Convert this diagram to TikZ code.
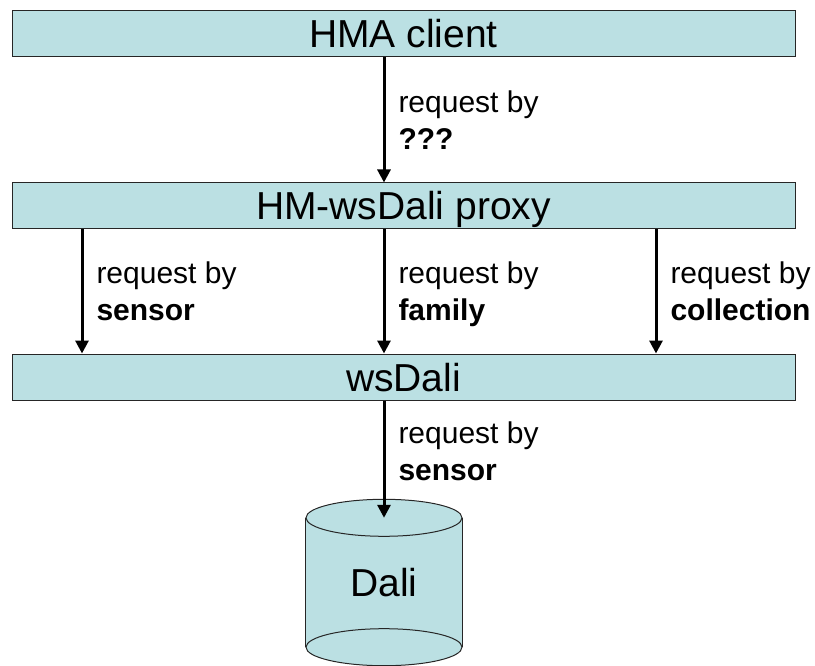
\documentclass[tikz,border=0pt]{standalone}
\usepackage{fontspec}
\setmainfont{Liberation Sans}
\usetikzlibrary{positioning, arrows.meta, backgrounds}
\definecolor{boxfill}{HTML}{BBE0E3}

\begin{document}
\begin{tikzpicture}[
    x=1pt, y=-1pt,
    layer/.style={rectangle, draw=black!85, line width=1pt, fill=boxfill,
        minimum width=783pt, minimum height=46pt, inner sep=0pt,
        text height=28pt, text depth=0pt, font=\fontsize{39}{44}\selectfont},
    store/.style={rectangle, minimum width=156pt, minimum height=129pt, inner sep=0pt,
        text height=28pt, text depth=0pt, font=\fontsize{39}{44}\selectfont},
    note/.style={align=left, inner sep=0pt, text depth=0pt, font=\fontsize{30}{37}\selectfont},
    myarrow/.style={line width=3pt, -{Triangle[length=13pt, width=13pt]}}]

    \useasboundingbox (0,0) rectangle (815,666);

    \node[layer] (client) at (403.5,34) {HMA client};
    \node[layer, below=125pt of client] (proxy) {HM-wsDali proxy};
    \node[layer, below=124pt of proxy] (wsdali) {wsDali};
    \node[store] (dali) at (384,582.5) {Dali};

    % database cylinder
    \begin{scope}[on background layer]
        \fill[boxfill] (dali.north west) -- (dali.south west)
            arc[start angle=180, end angle=360, x radius=78pt, y radius=18.5pt]
            -- (dali.north east) -- cycle;
        \draw[line width=1pt, draw=black!85, fill=boxfill] (dali.north) ellipse[x radius=78pt, y radius=18.5pt];
        \draw[line width=1pt, draw=black!85] (dali.south) ellipse[x radius=78pt, y radius=18.5pt];
        \draw[line width=1pt, draw=black!85] (dali.north west) -- (dali.south west)
            (dali.north east) -- (dali.south east);
    \end{scope}

    \draw[myarrow] (client.south -| dali) -- (proxy.north -| dali)
        node[note, midway, right=13pt] {request by\\\textbf{???}};

    \draw[myarrow] ([xshift=-302pt]proxy.south -| dali) -- ([xshift=-302pt]wsdali.north -| dali)
        node[note, midway, right=13pt] {request by\\\textbf{sensor}};
    \draw[myarrow] (proxy.south -| dali) -- (wsdali.north -| dali)
        node[note, midway, right=13pt] {request by\\\textbf{family}};
    \draw[myarrow] ([xshift=272pt]proxy.south -| dali) -- ([xshift=272pt]wsdali.north -| dali)
        node[note, midway, right=13pt] {request by\\\textbf{collection}};

    \draw[myarrow] (wsdali.south -| dali) -- (dali.north)
        node[note, pos=0.43, right=13pt] {request by\\\textbf{sensor}};

\end{tikzpicture}
\end{document}
